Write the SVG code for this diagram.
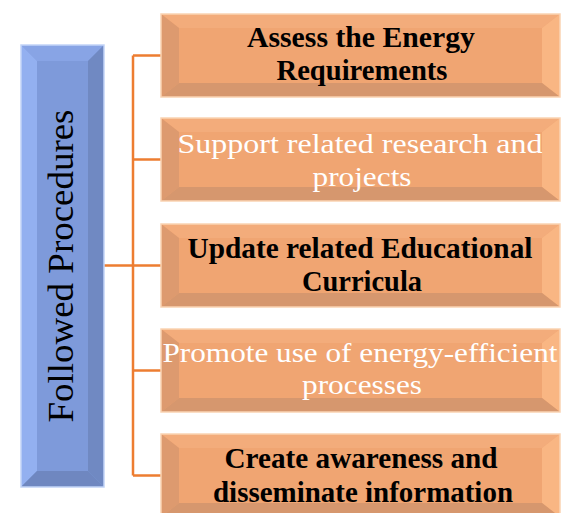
<svg xmlns="http://www.w3.org/2000/svg" xmlns:xlink="http://www.w3.org/1999/xlink" width="575" height="513" viewBox="0 0 575 513">
  <style>
    .face-o { fill: #F0A572; }
    .top-o { fill: #F3AC7B; }
    .left-o { fill: #DD9A6F; }
    .right-o { fill: #F9B683; }
    .bot-o { fill: #D6976E; }
    .edge-o { fill: none; stroke: #FAD3B3; stroke-width: 1.5; }
    .face-b { fill: #7E9ADA; }
    .top-b { fill: #88A4E5; }
    .left-b { fill: #93B0F0; }
    .right-b { fill: #7089C2; }
    .bot-b { fill: #6F87C0; }
    .edge-b { fill: none; stroke: #C2D4F7; stroke-width: 1.5; }
    .lbl { font-family: "Liberation Serif", "Times New Roman", serif; font-size: 29px; text-anchor: middle; }
    .dark { fill: #000000; font-weight: bold; }
    .light { fill: #FFFFFF; font-size: 28px; }
    .conn { stroke: #ED7D31; stroke-width: 2.5; fill: none; }
  </style>
  <defs>
    <g id="obox">
      <rect class="face-o" x="0" y="0" width="399" height="83"/>
      <polygon class="top-o" points="0,0 399,0 381,14 18,14"/>
      <polygon class="left-o" points="0,0 18,14 18,69 0,83"/>
      <polygon class="right-o" points="399,0 399,83 381,69 381,14"/>
      <polygon class="bot-o" points="0,83 18,69 381,69 399,83"/>
      <rect class="face-o" x="18" y="14" width="363" height="55"/>
      <rect class="edge-o" x="0" y="0" width="399" height="83"/>
    </g>
  </defs>

  <g id="connectors">
    <line class="conn" x1="104" y1="265.5" x2="133" y2="265.5"/>
    <line class="conn" x1="133" y1="55.5" x2="133" y2="475.5"/>
    <line class="conn" x1="133" y1="55.5" x2="161" y2="55.5"/>
    <line class="conn" x1="133" y1="159.5" x2="161" y2="159.5"/>
    <line class="conn" x1="133" y1="265.5" x2="161" y2="265.5"/>
    <line class="conn" x1="133" y1="370.5" x2="161" y2="370.5"/>
    <line class="conn" x1="133" y1="475.5" x2="161" y2="475.5"/>
  </g>

  <g id="root">
    <rect class="face-b" x="21" y="45" width="83" height="442"/>
    <polygon class="top-b" points="21,45 104,45 88,61 37,61"/>
    <polygon class="left-b" points="21,45 37,61 37,471 21,487"/>
    <polygon class="right-b" points="104,45 104,487 88,471 88,61"/>
    <polygon class="bot-b" points="21,487 37,471 88,471 104,487"/>
    <rect class="face-b" x="37" y="61" width="51" height="410"/>
    <rect class="edge-b" x="21" y="45" width="83" height="442"/>
    <text class="lbl" style="font-size:36px;fill:#000000" transform="translate(73,266) rotate(-90)" x="0" y="0" textLength="313" lengthAdjust="spacingAndGlyphs">Followed Procedures</text>
  </g>

  <g id="n1">
    <use xlink:href="#obox" transform="translate(161,14)"/>
    <text class="lbl dark" x="361" y="47" textLength="228" lengthAdjust="spacingAndGlyphs">Assess the Energy</text>
    <text class="lbl dark" x="362" y="80" textLength="171" lengthAdjust="spacingAndGlyphs">Requirements</text>
  </g>

  <g id="n2">
    <use xlink:href="#obox" transform="translate(161,118)"/>
    <text class="lbl light" x="360" y="153" textLength="365" lengthAdjust="spacingAndGlyphs">Support related research and</text>
    <text class="lbl light" x="362" y="186" textLength="99" lengthAdjust="spacingAndGlyphs">projects</text>
  </g>

  <g id="n3">
    <use xlink:href="#obox" transform="translate(161,224)"/>
    <text class="lbl dark" x="360" y="258" textLength="345" lengthAdjust="spacingAndGlyphs">Update related Educational</text>
    <text class="lbl dark" x="362" y="291" textLength="120" lengthAdjust="spacingAndGlyphs">Curricula</text>
  </g>

  <g id="n4">
    <use xlink:href="#obox" transform="translate(161,329)"/>
    <text class="lbl light" x="360" y="362" textLength="395" lengthAdjust="spacingAndGlyphs">Promote use of energy-efficient</text>
    <text class="lbl light" x="362" y="394" textLength="120" lengthAdjust="spacingAndGlyphs">processes</text>
  </g>

  <g id="n5">
    <use xlink:href="#obox" transform="translate(161,434)"/>
    <text class="lbl dark" x="361" y="468" textLength="273" lengthAdjust="spacingAndGlyphs">Create awareness and</text>
    <text class="lbl dark" x="363" y="502" textLength="300" lengthAdjust="spacingAndGlyphs">disseminate information</text>
  </g>
</svg>
